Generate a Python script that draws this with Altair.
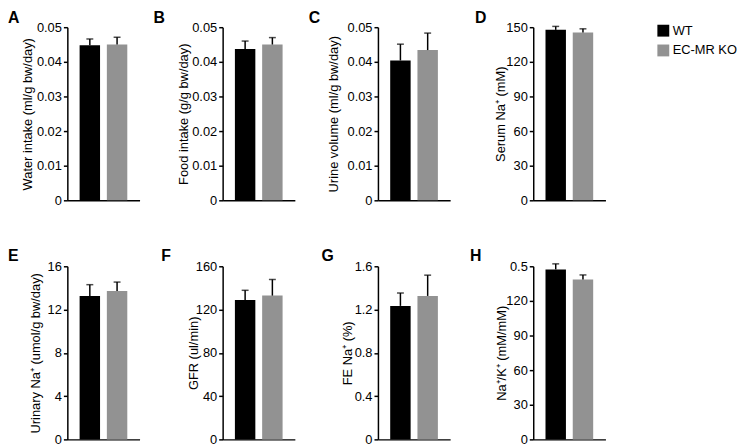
import json
import altair as alt
import pandas as pd

groups = ["WT", "EC-MR KO"]
group_colors = ["#000000", "#929292"]
letters = ["A", "B", "C", "D", "E", "F", "G", "H"]
y_titles = [
    "Water intake (ml/g bw/day)",
    "Food intake (g/g bw/day)",
    "Urine volume (ml/g bw/day)",
    "Serum Na⁺ (mM)",
    "Urinary Na⁺ (umol/g bw/day)",
    "GFR (ul/min)",
    "FE Na⁺ (%)",
    "Na⁺/K⁺ (mM/mM)",
]
wt_mean = [0.0448, 0.0437, 0.0404, 147.7, 13.26, 128.9, 1.234, 0.491]
wt_upper = [0.0466, 0.0460, 0.0451, 150.7, 14.30, 137.8, 1.353, 0.507]
ko_mean = [0.0450, 0.0450, 0.0434, 145.4, 13.71, 132.9, 1.326, 0.462]
ko_upper = [0.0471, 0.0470, 0.0483, 148.6, 14.54, 147.8, 1.518, 0.475]
y_max = [0.05, 0.05, 0.05, 150, 16, 160, 1.6, 0.5]
tick_values = [
    [0, 0.01, 0.02, 0.03, 0.04, 0.05],
    [0, 0.01, 0.02, 0.03, 0.04, 0.05],
    [0, 0.01, 0.02, 0.03, 0.04, 0.05],
    [0, 30, 60, 90, 120, 150],
    [0, 4, 8, 12, 16],
    [0, 40, 80, 120, 160],
    [0, 0.4, 0.8, 1.2, 1.6],
    [0, 0.1, 0.2, 0.3, 0.4, 0.5],
]
tick_labels = [
    ["0", "0.01", "0.02", "0.03", "0.04", "0.05"],
    ["0", "0.01", "0.02", "0.03", "0.04", "0.05"],
    ["0", "0.01", "0.02", "0.03", "0.04", "0.05"],
    ["0", "30", "60", "90", "120", "150"],
    ["0", "4", "8", "12", "16"],
    ["0", "40", "80", "120", "160"],
    ["0", "0.4", "0.8", "1.2", "1.6"],
    ["0", "30", "60", "90", "120", "0.5"],
]

# layout / style constants
FONT = "Liberation Sans"
letter_dx = [-60, -70, -70, -59, -60, -62, -57, -64]
letter_dy = [-4, -4, -4, -4, -5, -5, -5, -5]
title_x = [-40.5, -40, -45, -33, -32, -29, -31, -32.5]
PW, PH = 73, 175


def panel(i):
    df = pd.DataFrame({
        "group": groups,
        "mean": [wt_mean[i], ko_mean[i]],
        "upper": [wt_upper[i], ko_upper[i]],
    })
    base = alt.Chart(df)
    x = alt.X(
        "group:N", sort=groups,
        scale=alt.Scale(domain=groups, paddingInner=0.25, paddingOuter=0.45),
        axis=alt.Axis(title=None, labels=False, ticks=False, domain=True),
    )
    expr = f"{json.dumps(tick_labels[i])}[indexof({json.dumps(tick_values[i])}, datum.value)]"
    yscale = alt.Scale(domain=[0, y_max[i]], nice=False, zero=True)
    yaxis = alt.Axis(values=tick_values[i], labelExpr=expr, titleX=title_x[i],
                     titleBaseline="middle", grid=False, labelOverlap=False,
                     labelFlush=False, labelBound=False)
    bars = base.mark_bar().encode(
        x=x,
        y=alt.Y("mean:Q", scale=yscale, title=y_titles[i], axis=yaxis),
        color=alt.Color("group:N", sort=groups,
                        scale=alt.Scale(domain=groups, range=group_colors),
                        legend=alt.Legend(title=None)),
    )
    rule = base.mark_rule(color="black", strokeWidth=1.5).encode(
        x=x,
        y=alt.Y("mean:Q", scale=yscale, title=y_titles[i], axis=yaxis),
        y2="upper:Q")
    cap = base.mark_tick(color="black", thickness=1.5, size=7).encode(
        x=x,
        y=alt.Y("upper:Q", scale=yscale, title=y_titles[i], axis=yaxis))
    letter = alt.Chart(pd.DataFrame({"letter": [letters[i]]})).mark_text(
        align="left", baseline="alphabetic", fontSize=16, fontWeight="bold",
        font=FONT, color="black",
    ).encode(x=alt.value(letter_dx[i]), y=alt.value(letter_dy[i]), text="letter:N")
    return alt.layer(bars, rule, cap, letter).properties(width=PW, height=PH)


chart = alt.concat(
    *[panel(i) for i in range(8)],
    columns=4,
    spacing={"row": 66.7, "column": 84},
    bounds="flush",
).properties(
    padding={"left": 0, "top": 0, "right": 0, "bottom": 0},
).configure_view(
    stroke=None,
).configure_axis(
    labelFont=FONT, titleFont=FONT, labelFontSize=13, titleFontSize=13,
    titleFontWeight="normal", labelColor="black", titleColor="black",
    domainColor="black", tickColor="black", domainWidth=1.5, tickWidth=1.5,
    tickSize=4, labelPadding=2,
).configure_legend(
    orient="none", legendX=596, legendY=-3, labelFont=FONT, labelFontSize=13,
    labelColor="black", symbolType="square", symbolSize=144, symbolStrokeWidth=0,
    rowPadding=6, labelOffset=3, padding=0,
)

chart.save("out.html", embed_options={"renderer": "svg", "actions": False})
